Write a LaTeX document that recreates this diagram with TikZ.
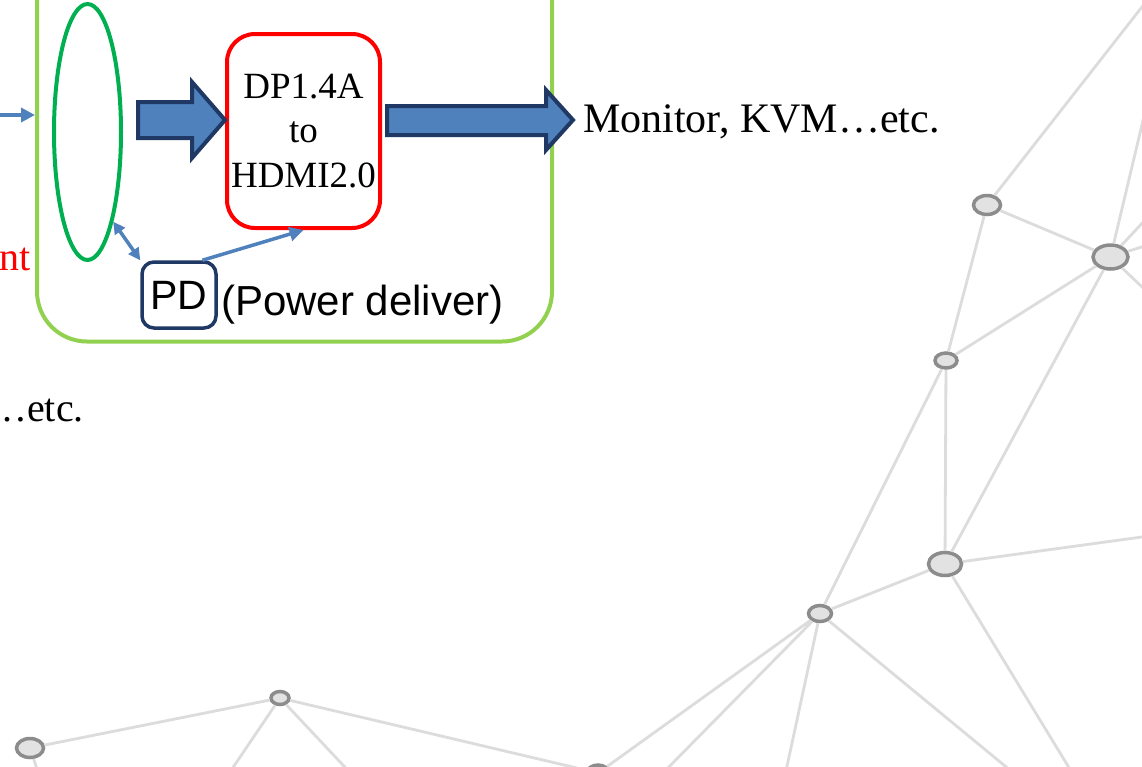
\documentclass[tikz,border=0pt]{standalone}
\usepackage{fontspec}
\setmainfont{Liberation Serif}
\newfontfamily\arialf{Liberation Sans}
\usetikzlibrary{shapes.geometric,arrows.meta,calc}
\definecolor{framegreen}{HTML}{92D050}
\definecolor{ellgreen}{HTML}{00B050}
\definecolor{arrblue}{HTML}{4F81BD}
\definecolor{navy}{HTML}{1F3864}
\definecolor{netline}{HTML}{DCDCDC}
\definecolor{netfill}{HTML}{E2E2E2}
\definecolor{netdraw}{HTML}{8C8C8C}
\tikzset{
  netnode/.style={ellipse, draw=netdraw, line width=3.5pt, fill=netfill, inner sep=0pt},
  netedge/.style={draw=netline, line width=2.8pt},
  frame/.style={rectangle, draw=framegreen, line width=4pt, rounded corners=50pt, inner sep=0pt},
  ringnode/.style={ellipse, draw=ellgreen, line width=4pt, inner sep=0pt},
  convbox/.style={rectangle, draw=red, line width=4pt, rounded corners=28pt, inner sep=0pt, align=center,
    font=\fontsize{37}{44.5}\selectfont},
  pdbox/.style={rectangle, draw=navy, line width=3.5pt, rounded corners=12pt, inner sep=0pt,
    font=\arialf\fontsize{41}{48}\selectfont},
  blockarrow/.style={fill=arrblue, draw=navy, line width=4pt, line join=miter},
  thinarrow/.style={draw=arrblue, line width=3.5pt, -{Triangle[length=14pt,width=14pt]}},
  thinboth/.style={draw=arrblue, line width=3.5pt, {Triangle[length=12pt,width=12pt]}-{Triangle[length=12pt,width=12pt]}},
  serifbig/.style={inner sep=0pt, font=\fontsize{42}{50}\selectfont},
  seriflab/.style={inner sep=0pt, font=\fontsize{40}{48}\selectfont},
  sanslab/.style={inner sep=0pt, font=\arialf\fontsize{42}{50}\selectfont}
}
\begin{document}
\begin{tikzpicture}[x=1pt,y=-1pt]
\useasboundingbox (0,0) rectangle (1142,766);
\clip (0,0) rectangle (1142,766);
\fill[white] (0,0) rectangle (1142,766);

% ---------- background network ----------
\node[netnode, minimum width=27pt, minimum height=19pt] (n1) at (987,205) {};
\node[netnode, minimum width=35pt, minimum height=24pt] (n2) at (1110.5,257) {};
\node[netnode, minimum width=22pt, minimum height=15pt] (n3) at (946,360.5) {};
\node[netnode, minimum width=33pt, minimum height=23pt] (n4) at (945,564) {};
\node[netnode, minimum width=23pt, minimum height=16pt] (n5) at (820,613.5) {};
\node[netnode, minimum width=18pt, minimum height=13pt] (n6) at (280,698) {};
\node[netnode, minimum width=27pt, minimum height=19pt] (n7) at (30,748) {};
\node[netnode, minimum width=22pt, minimum height=16pt] (n8) at (598,773) {};

\coordinate (e1) at (1163,-20);
\coordinate (e2up) at (1174,-10);
\coordinate (e2a) at (1161,203);
\coordinate (e2b) at (1160,241);
\coordinate (e2c) at (1160,304);
\coordinate (e4r) at (1160,534.5);
\coordinate (e4d) at (1076.5,780);
\coordinate (e5a) at (656,780);
\coordinate (e5b) at (784,780);
\coordinate (e5c) at (1022,780);
\coordinate (e6a) at (224.5,780);
\coordinate (e6b) at (357,780);
\coordinate (e7) at (40.7,780);

\path[netedge]
  (n1) -- (n2)  (n1) -- (n3)  (n2) -- (n3)  (n2) -- (n4)
  (n3) -- (n4)  (n3) -- (n5)  (n4) -- (n5)  (n5) -- (n8)
  (n6) -- (n8)  (n6) -- (n7)
  (n1) -- (e1)  (n2) -- (e2up)  (n2) -- (e2a)  (n2) -- (e2b)  (n2) -- (e2c)
  (n4) -- (e4r) (n4) -- (e4d)
  (n5) -- (e5a) (n5) -- (e5b) (n5) -- (e5c)
  (n6) -- (e6a) (n6) -- (e6b) (n7) -- (e7);

% ---------- main diagram ----------
\node[frame, minimum width=515pt, minimum height=441.5pt] (frm) at (294.5,120.75) {};
\node[ringnode, minimum width=67pt, minimum height=256pt] (ring) at (87.5,132) {};
\node[convbox, minimum width=153pt, minimum height=194pt] (conv) at (303.5,131) {DP1.4A\\to\\HDMI2.0};
\node[pdbox, minimum width=74pt, minimum height=66pt] (pd) at (179,295) {PD};
\node[sanslab, anchor=base west] (pwr) at (221,315) {(Power deliver)};
\node[serifbig, anchor=base west] (mon) at (583,132) {Monitor, KVM…etc.};
\node[seriflab, anchor=base east, text=red] (ntl) at (31,270) {nt};
\node[seriflab, anchor=base west] (etcl) at (-13,421) {…etc.};

% block arrows
\draw[blockarrow] (138,102) -- (192,102) -- (192,82) -- (225,120) -- (192,158) -- (192,138) -- (138,138) -- cycle;
\draw[blockarrow] (387,106) -- (546,106) -- (546,90) -- (573,120) -- (546,150) -- (546,135) -- (387,135) -- cycle;

% thin blue arrows
\coordinate (inl) at (-5,115);
\draw[thinarrow] (inl) -- (inl -| frm.west);
\draw[thinboth] (ring.-74) -- (pd.north west);
\draw[thinarrow] (pd.56) -- (conv.south);
\end{tikzpicture}
\end{document}
